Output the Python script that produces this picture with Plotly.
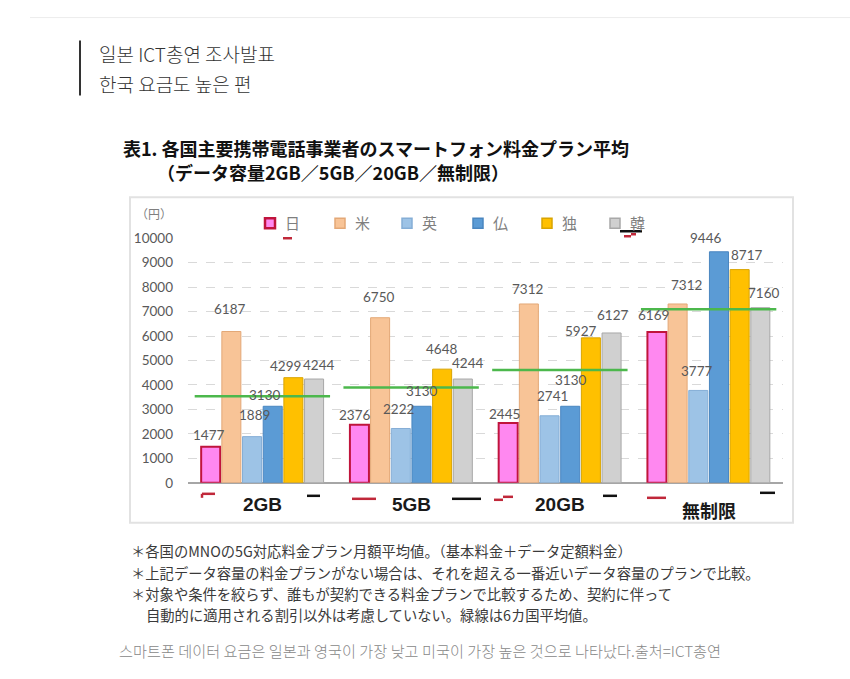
import plotly.graph_objects as go

W, H = 850, 679

# ---------------- data ----------------
plans = ["2GB", "5GB", "20GB", "無制限"]
countries = ["日", "米", "英", "仏", "独", "韓"]
japan   = [1477, 2376, 2445, 6169]
usa     = [6187, 6750, 7312, 7312]
uk      = [1889, 2222, 2741, 3777]
france  = [3130, 3130, 3130, 9446]
germany = [4299, 4648, 5927, 8717]
korea   = [4244, 4244, 6127, 7160]
avg6    = [3540, 3900, 4610, 7100]   # green line: 6-country average
y_ticks = list(range(0, 10001, 1000))
y_tick_labels = [str(v) for v in y_ticks]

series = [japan, usa, uk, france, germany, korea]
fills = ["#FF88F0", "#F8C497", "#9DC3E6", "#5B9BD5", "#FFC000", "#D0D0D0"]
borders = ["#C0143C", "#E3A877", "#85AED6", "#4A86C0", "#D9A400", "#A8A8A8"]
bwidth = [2, 1, 1, 1, 1, 1]

# value-label nudges in pixels (style: the original's labels were hand-placed)
label_dx = [[-2, -5, -4, -3], [-2, -2, -1, 9], [2, -2, 3, -2],
            [-8, 0, 0, -13], [-8, -1, -10, 7], [4, 5, 1, 3]]
label_dy = [[0, -2, -3, 5], [11, 9, 3, 7], [10, 7, 8, 7],
            [-1, 3, 14, 2], [0, 8, -5, 3], [2, 4, 6, 3]]

BARGAP, BARGROUPGAP = 0.166, 0.08

# page-pixel -> paper helpers (vertical mapping compensates the capture's squeeze)
def fx(p):
    return p / W

def fy(p):
    q = (p - 7.4) / 0.978
    return 1 - q / H

fig = go.Figure()
for name, vals, fc, bc, bw in zip(countries, series, fills, borders, bwidth):
    fig.add_trace(go.Bar(
        x=list(range(len(plans))), y=vals, name=name,
        marker=dict(color=fc, line=dict(color=bc, width=bw)),
        showlegend=False, hoverinfo="x+y+name",
    ))

annotations = []
# value labels, anchored to each bar's slot within its group
slot = (1 - BARGAP) / len(series)
for k, (vals, dxs, dys) in enumerate(zip(series, label_dx, label_dy)):
    for i, v in enumerate(vals):
        annotations.append(dict(
            text=str(v), xref="x", yref="y", x=i + (k - (len(series) - 1) / 2) * slot, y=v,
            xanchor="center", yanchor="bottom", showarrow=False,
            xshift=dxs[i], yshift=2 + dys[i],
            font=dict(family="Lato", size=13.5, color="#595959")))

shapes = []
# page decorations
shapes.append(dict(type="line", xref="paper", yref="paper", x0=fx(30), x1=fx(850),
                   y0=fy(17), y1=fy(17), line=dict(color="#ececec", width=1)))
shapes.append(dict(type="line", xref="paper", yref="paper", x0=fx(80), x1=fx(80),
                   y0=fy(40), y1=fy(95), line=dict(color="#333333", width=2)))
# chart box
shapes.append(dict(type="rect", xref="paper", yref="paper", x0=fx(130), x1=fx(793),
                   y0=fy(523), y1=fy(197), line=dict(color="#e2e2e2", width=2), layer="below"))

# average lines
for i, a in enumerate(avg6):
    shapes.append(dict(type="line", xref="x", yref="y", x0=i - 0.455, x1=i + 0.455,
                       y0=a, y1=a, line=dict(color="#4CB84C", width=2.5), layer="above"))

# small stray marks of the original image
marks = [
    (202, 494, 215, 494, "#C0283A"), (202, 494, 202, 498, "#C0283A"),
    (307, 496, 320, 496, "#111111"),
    (352, 499, 376, 499, "#C0283A"),
    (452, 499, 481, 499, "#111111"),
    (494, 500, 503, 500, "#C0283A"), (503, 497, 513, 497, "#C0283A"),
    (603, 496, 617, 496, "#111111"),
    (647, 498, 666, 498, "#C0283A"),
    (760, 493, 775, 493, "#111111"),
    (283, 238, 292, 238, "#C0283A"),
    (620, 231, 642, 231, "#111111"),
    (624, 236, 631, 236, "#C0283A"), (631, 234, 636, 234, "#C0283A"),
]
for x0, y0, x1, y1, c in marks:
    shapes.append(dict(type="line", xref="paper", yref="paper", x0=fx(x0), x1=fx(x1),
                       y0=fy(y0), y1=fy(y1), line=dict(color=c, width=2.5)))

# legend (manual, built from the country list)
leg_sq_x = [265, 335, 402, 473, 542, 610]
for name, fc, bc, bw, sx in zip(countries, fills, borders, bwidth, leg_sq_x):
    shapes.append(dict(type="rect", xref="paper", yref="paper", x0=fx(sx), x1=fx(sx + 10),
                       y0=fy(228), y1=fy(218), fillcolor=fc,
                       line=dict(color=bc, width=bw + 0.5)))

for name, sx in zip(countries, leg_sq_x):
    annotations.append(dict(text=name, xref="paper", yref="paper", x=fx(sx + 18), y=fy(222),
                            xanchor="left", yanchor="middle", showarrow=False,
                            font=dict(family="Noto Sans CJK JP", size=15, color="#7f7f7f")))

# headings
for txt, y in [("일본 ICT총연 조사발표", 53), ("한국 요금도 높은 편", 83)]:
    annotations.append(dict(text=txt, xref="paper", yref="paper", x=fx(97), y=fy(y),
                            xanchor="left", yanchor="middle", showarrow=False,
                            font=dict(family="Noto Sans CJK KR", size=19, color="#333333",
                                      weight=300)))

# chart title
for txt, x, y in [("表1. 各国主要携帯電話事業者のスマートフォン料金プラン平均", 121, 148),
                  ("（データ容量2GB／5GB／20GB／無制限）", 155, 172)]:
    annotations.append(dict(text=txt, xref="paper", yref="paper", x=fx(x), y=fy(y),
                            xanchor="left", yanchor="middle", showarrow=False,
                            font=dict(family="Noto Sans CJK JP", size=18, color="#111111",
                                      weight="bold")))

# unit label
annotations.append(dict(text="（円）", xref="paper", yref="paper", x=fx(154), y=fy(213),
                        xanchor="center", yanchor="middle", showarrow=False,
                        font=dict(family="Noto Sans CJK JP", size=12, color="#7f7f7f")))

# category labels
cat_y = [505, 505, 505, 510]
for i, (p, cy) in enumerate(zip(plans, cat_y)):
    fam = "Noto Sans CJK JP" if i == 3 else "Liberation Sans"
    size = 18 if i == 3 else 19
    annotations.append(dict(text=p, xref="x", yref="paper", x=i, y=fy(cy),
                            xanchor="center", yanchor="middle", showarrow=False,
                            font=dict(family=fam, size=size, color="#1a1a1a", weight="bold")))

# notes
notes = [
    ("＊各国のMNOの5G対応料金プラン月額平均値。（基本料金＋データ定額料金）", 129, 551),
    ("＊上記データ容量の料金プランがない場合は、それを超える一番近いデータ容量のプランで比較。", 129, 573),
    ("＊対象や条件を絞らず、誰もが契約できる料金プランで比較するため、契約に伴って", 129, 594),
    ("自動的に適用される割引以外は考慮していない。緑線は6カ国平均値。", 144, 615),
]
for txt, x, y in notes:
    annotations.append(dict(text=txt, xref="paper", yref="paper", x=fx(x), y=fy(y),
                            xanchor="left", yanchor="middle", showarrow=False,
                            font=dict(family="Noto Sans CJK JP", size=14.3, color="#3a3a3a")))

annotations.append(dict(text="스마트폰 데이터 요금은 일본과 영국이 가장 낮고 미국이 가장 높은 것으로 나타났다.출처=ICT총연",
                        xref="paper", yref="paper", x=fx(117), y=fy(650),
                        xanchor="left", yanchor="middle", showarrow=False,
                        font=dict(family="Noto Sans CJK KR", size=15.2, color="#888888", weight=300)))

fig.update_layout(
    width=W, height=H, margin=dict(l=0, r=0, t=0, b=0),
    paper_bgcolor="white", plot_bgcolor="white",
    barmode="group", bargap=BARGAP, bargroupgap=BARGROUPGAP,
    showlegend=False,
    xaxis=dict(domain=[fx(188), fx(783)], range=[-0.5, 3.5], showticklabels=False,
               showgrid=False, zeroline=False, showline=False, fixedrange=True),
    yaxis=dict(domain=[fy(483), fy(238)], range=[0, 10000], tickvals=y_ticks,
               ticktext=y_tick_labels,
               tickfont=dict(family="Lato", size=13.5, color="#595959"),
               gridcolor="#d9d9d9", griddash="dash", gridwidth=1,
               zeroline=True, zerolinecolor="#a6a6a6", zerolinewidth=1.5,
               showline=False, ticks="", ticklabelstandoff=14, fixedrange=True),
    shapes=shapes, annotations=annotations,
)

fig.write_html("out.html", config={"displayModeBar": False},
               post_script="document.body.style.margin='0';document.body.style.overflow='hidden';")
